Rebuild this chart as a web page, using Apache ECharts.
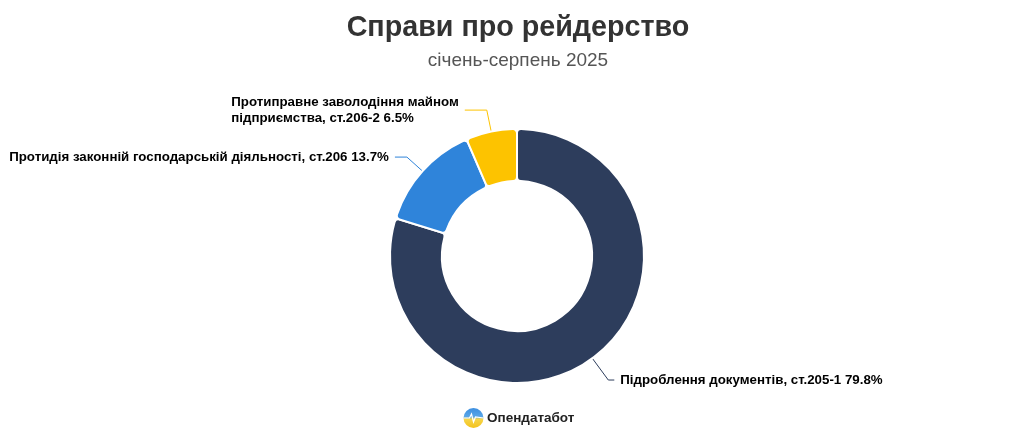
<!DOCTYPE html>
<html>
<head>
<meta charset="utf-8">
<script src="https://cdn.jsdelivr.net/npm/echarts@6/dist/echarts.min.js"></script>
<style>
html,body{margin:0;padding:0;background:#fff;}
#chart{width:1024px;height:436px;}
</style>
</head>
<body>
<div id="chart"></div>
<script>
const titleText = 'Справи про рейдерство';
const subtitleText = 'січень-серпень 2025';
const categories = [
  "Підроблення документів, ст.205-1",
  "Протидія законній господарській діяльності, ст.206",
  "Протиправне заволодіння майном підприємства, ст.206-2"
];
const labelTexts = [
  "Підроблення документів, ст.205-1",
  "Протидія законній господарській діяльності, ст.206",
  "Протиправне заволодіння майном\nпідприємства, ст.206-2"
];
const values = [79.8, 13.7, 6.5];
const colors = ["#2d3d5c", "#2f84da", "#fdc300"];
const lineLen = [[27, 6], [21, 12], [22, 22]];

const font = "'Liberation Sans', Arial, sans-serif";
const chart = echarts.init(document.getElementById('chart'), null, {renderer: 'canvas'});

const data = categories.map((c, i) => ({
  name: c,
  value: values[i],
  itemStyle: {color: colors[i]},
  labelLine: {length: lineLen[i][0], length2: lineLen[i][1], lineStyle: {color: colors[i], width: 1}},
  label: {
    formatter: () => {
      const lines = labelTexts[i].split('\n');
      lines[lines.length - 1] += ' ' + values[i].toFixed(1) + '%';
      if (lines.length === 1) return lines[0];
      return lines.map(t => '{a|' + t + '}').join('\n');
    }
  }
}));

chart.setOption({
  animation: false,
  graphic: [{
    type: 'text', x: 518, y: 14,
    style: {text: titleText, font: 'bold 28.7px ' + font, fill: '#333', align: 'center', verticalAlign: 'top'}
  }, {
    type: 'text', x: 518, y: 51,
    style: {text: subtitleText, font: '19px ' + font, fill: '#555', align: 'center', verticalAlign: 'top'}
  }, {
    type: 'group', left: 461, top: 408,
    children: [
      {type: 'circle', shape: {cx: 10, cy: 10, r: 10},
       style: {fill: new echarts.graphic.LinearGradient(0, 0, 0, 1, [
         {offset: 0, color: '#3d8fe0'}, {offset: 0.45, color: '#5aa7e8'},
         {offset: 0.55, color: '#f6d54a'}, {offset: 1, color: '#f3c21c'}])}},
      {type: 'polyline', shape: {points: [[0, 10], [6, 10], [8, 6], [10, 14], [12, 9], [20, 10]]},
       style: {stroke: '#fff', lineWidth: 1.2, fill: null}}
    ]
  }, {
    type: 'text', left: 487, top: 411,
    style: {text: 'Опендатабот', font: 'bold 13.5px ' + font, fill: '#222'}
  }],
  series: [{
    type: 'pie',
    center: [517, 256],
    radius: [75, 127],
    startAngle: 90,
    clockwise: true,
    itemStyle: {borderColor: '#fff', borderWidth: 2, borderRadius: 4},
    label: {
      show: true,
      position: 'outside',
      overflow: 'none',
      edgeDistance: 0,
      distanceToLabelLine: 6,
      fontFamily: font, fontSize: 13.3, fontWeight: 'bold', color: '#000',
      rich: {a: {fontFamily: font, fontSize: 13.3, fontWeight: 'bold', color: '#000', align: 'left', lineHeight: 16}}
    },
    emphasis: {disabled: true},
    data: data
  }]
});
</script>
</body>
</html>
